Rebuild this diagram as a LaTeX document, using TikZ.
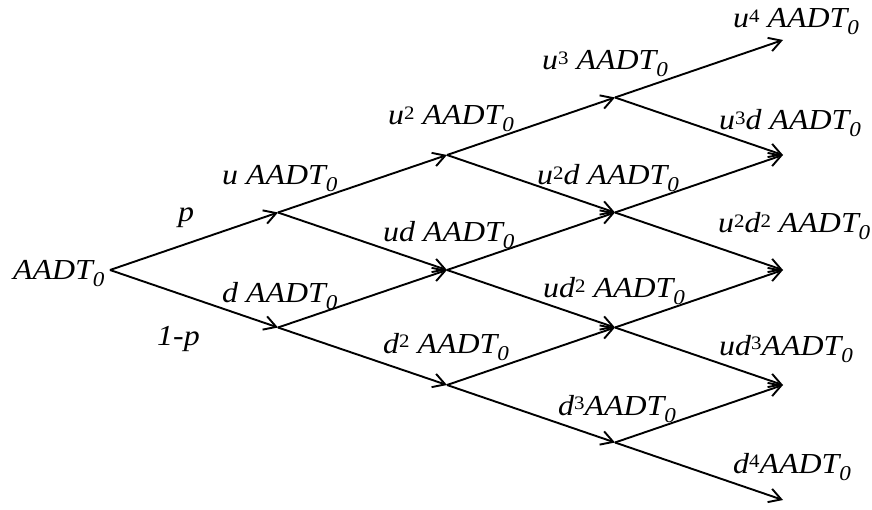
\documentclass[tikz,border=0pt]{standalone}
\usepackage{fontspec}
\setmainfont[FakeStretch=1.1]{Liberation Serif}
\usetikzlibrary{arrows.meta}
% lowered italic subscript and small raised upright exponent
\newcommand{\lowidx}[1]{\raisebox{-7pt}{\fontsize{21}{21}\selectfont #1}}
\newcommand{\pw}[1]{\raisebox{5.5pt}{\fontsize{19}{19}\selectfont\upshape #1}}
\newcommand{\AADT}{AADT\lowidx{0}}
\begin{document}
\begin{tikzpicture}[x=1pt,y=-1pt,
  font=\fontsize{29}{31}\selectfont\itshape,
  lbl/.style={inner sep=0pt, anchor=base west},
  branch/.style={line width=1.9pt, -{Straight Barb[length=12pt,width=14pt,line width=1.9pt]}}]
\useasboundingbox (0,0) rectangle (872,510);
% lattice points: column c, row r
\coordinate (p00) at (110,270);
\coordinate (p10) at (278,212.5);
\coordinate (p11) at (278,327.5);
\coordinate (p20) at (447,155);
\coordinate (p21) at (447,270);
\coordinate (p22) at (447,385);
\coordinate (p30) at (615,97.5);
\coordinate (p31) at (615,212.5);
\coordinate (p32) at (615,327.5);
\coordinate (p33) at (615,442.5);
\coordinate (p40) at (783,40);
\coordinate (p41) at (783,155);
\coordinate (p42) at (783,270);
\coordinate (p43) at (783,385);
\coordinate (p44) at (783,500);
% branches
\draw[branch] (p00) -- (p10);
\draw[branch] (p00) -- (p11);
\draw[branch] (p10) -- (p20);
\draw[branch] (p10) -- (p21);
\draw[branch] (p11) -- (p21);
\draw[branch] (p11) -- (p22);
\draw[branch] (p20) -- (p30);
\draw[branch] (p20) -- (p31);
\draw[branch] (p21) -- (p31);
\draw[branch] (p21) -- (p32);
\draw[branch] (p22) -- (p32);
\draw[branch] (p22) -- (p33);
\draw[branch] (p30) -- (p40);
\draw[branch] (p30) -- (p41);
\draw[branch] (p31) -- (p41);
\draw[branch] (p31) -- (p42);
\draw[branch] (p32) -- (p42);
\draw[branch] (p32) -- (p43);
\draw[branch] (p33) -- (p43);
\draw[branch] (p33) -- (p44);
% values and probabilities
\node[lbl] (t00) at (13,280) {\AADT};
\node[lbl] (tp) at (178,222) {p};
\node[lbl] (tq) at (157,345) {1-p};
\node[lbl] (t10) at (222,185) {u \AADT};
\node[lbl] (t11) at (222,303) {d \AADT};
\node[lbl] (t20) at (388,125) {u\pw{2} \AADT};
\node[lbl] (t21) at (383,242) {ud \AADT};
\node[lbl] (t22) at (383,353) {d\pw{2} \AADT};
\node[lbl] (t30) at (542,70) {u\pw{3} \AADT};
\node[lbl] (t31) at (537,185) {u\pw{2}d \AADT};
\node[lbl] (t32) at (543,298) {ud\pw{2} \AADT};
\node[lbl] (t33) at (558,415) {d\pw{3}\AADT};
\node[lbl] (t40) at (733,28) {u\pw{4} \AADT};
\node[lbl] (t41) at (719,130) {u\pw{3}d \AADT};
\node[lbl] (t42) at (718,233) {u\pw{2}d\pw{2} \AADT};
\node[lbl] (t43) at (719,355) {ud\pw{3}\AADT};
\node[lbl] (t44) at (733,473) {d\pw{4}\AADT};
\end{tikzpicture}
\end{document}
